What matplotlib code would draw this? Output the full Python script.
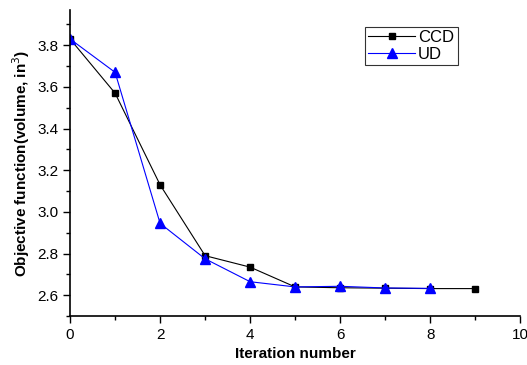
import matplotlib
matplotlib.use("Agg")
import matplotlib.pyplot as plt
from matplotlib.ticker import MultipleLocator

plt.rcParams['font.family'] = ['Liberation Sans', 'DejaVu Sans']

ccd_x = [0, 1, 2, 3, 4, 5, 6, 7, 8, 9]
ccd_y = [3.83, 3.57, 3.13, 2.79, 2.735, 2.64, 2.636, 2.634, 2.632, 2.632]
ud_x = [0, 1, 2, 3, 4, 5, 6, 7, 8]
ud_y = [3.83, 3.67, 2.945, 2.775, 2.665, 2.64, 2.643, 2.635, 2.633]

fig = plt.figure(figsize=(5.27, 3.65), dpi=100)
ax = fig.add_axes([0.133, 0.134, 0.854, 0.839])

ax.plot(ccd_x, ccd_y, color='black', marker='s', markersize=5, linewidth=0.8, label='CCD')
ax.plot(ud_x, ud_y, color='blue', marker='^', markersize=7, linewidth=0.8, label='UD')

ax.set_xlim(0, 10)
ax.set_ylim(2.5, 3.97)
ax.xaxis.set_major_locator(MultipleLocator(2))
ax.xaxis.set_minor_locator(MultipleLocator(1))
ax.yaxis.set_major_locator(MultipleLocator(0.2))
ax.yaxis.set_minor_locator(MultipleLocator(0.1))
ax.tick_params(which='major', direction='out', length=5, width=1, labelsize=11)
ax.tick_params(which='minor', direction='out', length=3, width=1)

for s in ['top', 'right']:
    ax.spines[s].set_visible(False)
for s in ['left', 'bottom']:
    ax.spines[s].set_linewidth(1.2)

ax.set_xlabel('Iteration number', fontweight='bold', fontsize=11)
ax.set_ylabel('Objective function(volume, in$^3$)', fontweight='bold', fontsize=11)

leg = ax.legend(loc='upper left', bbox_to_anchor=(0.655, 0.945), fancybox=False,
                edgecolor='black', fontsize=12, handlelength=2.8, borderpad=0.2,
                labelspacing=0.1, handletextpad=0.2, borderaxespad=0)
leg.get_frame().set_linewidth(0.8)

fig.savefig('out.png', dpi=100)
